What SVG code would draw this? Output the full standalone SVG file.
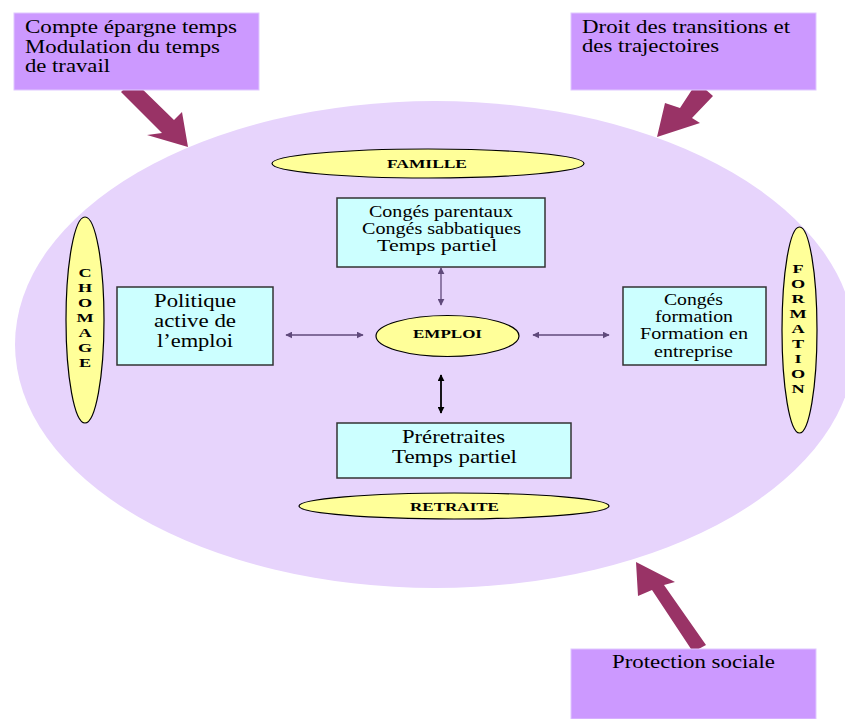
<svg xmlns="http://www.w3.org/2000/svg" width="845" height="719" viewBox="0 0 845 719">
<defs>
<style>
.pbox{fill:#cc99ff;stroke:#e0c8ff;stroke-width:1}
.ptxt{font-family:"Liberation Serif",serif;font-size:19px;fill:#000}
.yel{fill:#ffff99;stroke:#000;stroke-width:1.2}
.ylab{font-family:"Liberation Serif",serif;font-size:13px;font-weight:bold;fill:#000;text-anchor:middle}
.cbox{fill:#ccffff;stroke:#333;stroke-width:1.5}
.ctxt{font-family:"Liberation Serif",serif;fill:#000;text-anchor:middle}
.big{fill:#993366}
.con{stroke:#604a7b;stroke-width:1.3;fill:none}
.conb{stroke:#000;stroke-width:1.8;fill:none}
</style>
<marker id="ah" viewBox="0 0 10 10" refX="9" refY="5" markerWidth="7" markerHeight="7" markerUnits="userSpaceOnUse" orient="auto-start-reverse">
<path d="M0,0 L10,5 L0,10 z" fill="#604a7b"/>
</marker>
<marker id="ahb" viewBox="0 0 10 10" refX="9" refY="5" markerWidth="7" markerHeight="7" markerUnits="userSpaceOnUse" orient="auto-start-reverse">
<path d="M0,0 L10,5 L0,10 z" fill="#000"/>
</marker>
</defs>
<rect width="845" height="719" fill="#fff"/>
<ellipse id="fond" cx="435" cy="344.5" rx="420" ry="243.5" fill="#e7d4fc"/>

<g id="fleches">
<polygon class="big" points="121,92 133,80 174,120 182,112 188,147 147,135 162,133"/>
<polygon class="big" points="697,82 713,96 692,118 700,123 657,137 665,103 680,108"/>
<polygon class="big" points="693,652 706,645 664,585 675,582 636,562 638,596 652,590"/>
</g>

<g id="compte">
<rect class="pbox" x="14" y="13" width="245" height="77"/>
<text class="ptxt" x="25" y="33" textLength="212" lengthAdjust="spacingAndGlyphs">Compte épargne temps</text>
<text class="ptxt" x="25" y="53" textLength="195" lengthAdjust="spacingAndGlyphs">Modulation du temps</text>
<text class="ptxt" x="25" y="72" textLength="85" lengthAdjust="spacingAndGlyphs">de travail</text>
</g>
<g id="droit">
<rect class="pbox" x="571" y="13" width="245" height="77"/>
<text class="ptxt" x="582" y="33" textLength="208" lengthAdjust="spacingAndGlyphs">Droit des transitions et</text>
<text class="ptxt" x="582" y="52" textLength="137" lengthAdjust="spacingAndGlyphs">des trajectoires</text>
</g>
<g id="protection">
<rect class="pbox" x="571" y="649" width="245" height="70"/>
<text class="ptxt" x="612" y="668" textLength="163" lengthAdjust="spacingAndGlyphs">Protection sociale</text>
</g>

<g id="famille">
<ellipse class="yel" cx="428" cy="163.5" rx="156" ry="14.5"/>
<text class="ylab" x="427" y="168" textLength="80" lengthAdjust="spacingAndGlyphs">FAMILLE</text>
</g>
<g id="emploi">
<ellipse class="yel" cx="447.5" cy="336" rx="71.5" ry="20.5"/>
<text class="ylab" x="447.5" y="338" textLength="69" lengthAdjust="spacingAndGlyphs">EMPLOI</text>
</g>
<g id="retraite">
<ellipse class="yel" cx="454" cy="506" rx="155" ry="13"/>
<text class="ylab" x="454.5" y="511" textLength="89" lengthAdjust="spacingAndGlyphs">RETRAITE</text>
</g>
<g id="chomage">
<ellipse class="yel" cx="85" cy="320" rx="19" ry="103"/>
<g transform="translate(85,0) scale(1.4,1)">
<text class="ylab" x="0" y="277">C</text>
<text class="ylab" x="0" y="292">H</text>
<text class="ylab" x="0" y="307">O</text>
<text class="ylab" x="0" y="322">M</text>
<text class="ylab" x="0" y="337">A</text>
<text class="ylab" x="0" y="352">G</text>
<text class="ylab" x="0" y="367">E</text>
</g>
</g>
<g id="formation">
<ellipse class="yel" cx="799.5" cy="330" rx="17.5" ry="103"/>
<g transform="translate(798,0) scale(1.4,1)">
<text class="ylab" x="0" y="273">F</text>
<text class="ylab" x="0" y="288">O</text>
<text class="ylab" x="0" y="303">R</text>
<text class="ylab" x="0" y="318">M</text>
<text class="ylab" x="0" y="333">A</text>
<text class="ylab" x="0" y="348">T</text>
<text class="ylab" x="0" y="363">I</text>
<text class="ylab" x="0" y="378">O</text>
<text class="ylab" x="0" y="393">N</text>
</g>
</g>

<g id="conges">
<rect class="cbox" x="337" y="198" width="208" height="69"/>
<text class="ctxt" x="441" y="217" font-size="16" textLength="144" lengthAdjust="spacingAndGlyphs">Congés parentaux</text>
<text class="ctxt" x="441.5" y="234" font-size="16" textLength="159" lengthAdjust="spacingAndGlyphs">Congés sabbatiques</text>
<text class="ctxt" x="437" y="251" font-size="16" textLength="120" lengthAdjust="spacingAndGlyphs">Temps partiel</text>
</g>
<g id="politique">
<rect class="cbox" x="117" y="287" width="156" height="78"/>
<text class="ctxt" x="195" y="307" font-size="19" textLength="82" lengthAdjust="spacingAndGlyphs">Politique</text>
<text class="ctxt" x="195" y="327" font-size="19" textLength="82" lengthAdjust="spacingAndGlyphs">active de</text>
<text class="ctxt" x="195" y="347" font-size="19" textLength="76" lengthAdjust="spacingAndGlyphs">l’emploi</text>
</g>
<g id="congesformation">
<rect class="cbox" x="623" y="287" width="143" height="78"/>
<text class="ctxt" x="693.5" y="305" font-size="16" textLength="59" lengthAdjust="spacingAndGlyphs">Congés</text>
<text class="ctxt" x="694" y="322" font-size="16" textLength="78" lengthAdjust="spacingAndGlyphs">formation</text>
<text class="ctxt" x="694" y="339" font-size="16" textLength="108" lengthAdjust="spacingAndGlyphs">Formation en</text>
<text class="ctxt" x="693.5" y="357" font-size="16" textLength="79" lengthAdjust="spacingAndGlyphs">entreprise</text>
</g>
<g id="preretraites">
<rect class="cbox" x="337" y="423" width="234" height="55"/>
<text class="ctxt" x="453.5" y="443" font-size="18" textLength="103" lengthAdjust="spacingAndGlyphs">Préretraites</text>
<text class="ctxt" x="454.5" y="463" font-size="18" textLength="125" lengthAdjust="spacingAndGlyphs">Temps partiel</text>
</g>

<g id="connecteurs">
<line class="con" x1="441" y1="268" x2="441" y2="305" marker-start="url(#ah)" marker-end="url(#ah)"/>
<line class="con" x1="286" y1="335" x2="363" y2="335" marker-start="url(#ah)" marker-end="url(#ah)"/>
<line class="con" x1="533" y1="335" x2="609" y2="335" marker-start="url(#ah)" marker-end="url(#ah)"/>
<line class="conb" x1="441" y1="375" x2="441" y2="413" marker-start="url(#ahb)" marker-end="url(#ahb)"/>
</g>
</svg>
